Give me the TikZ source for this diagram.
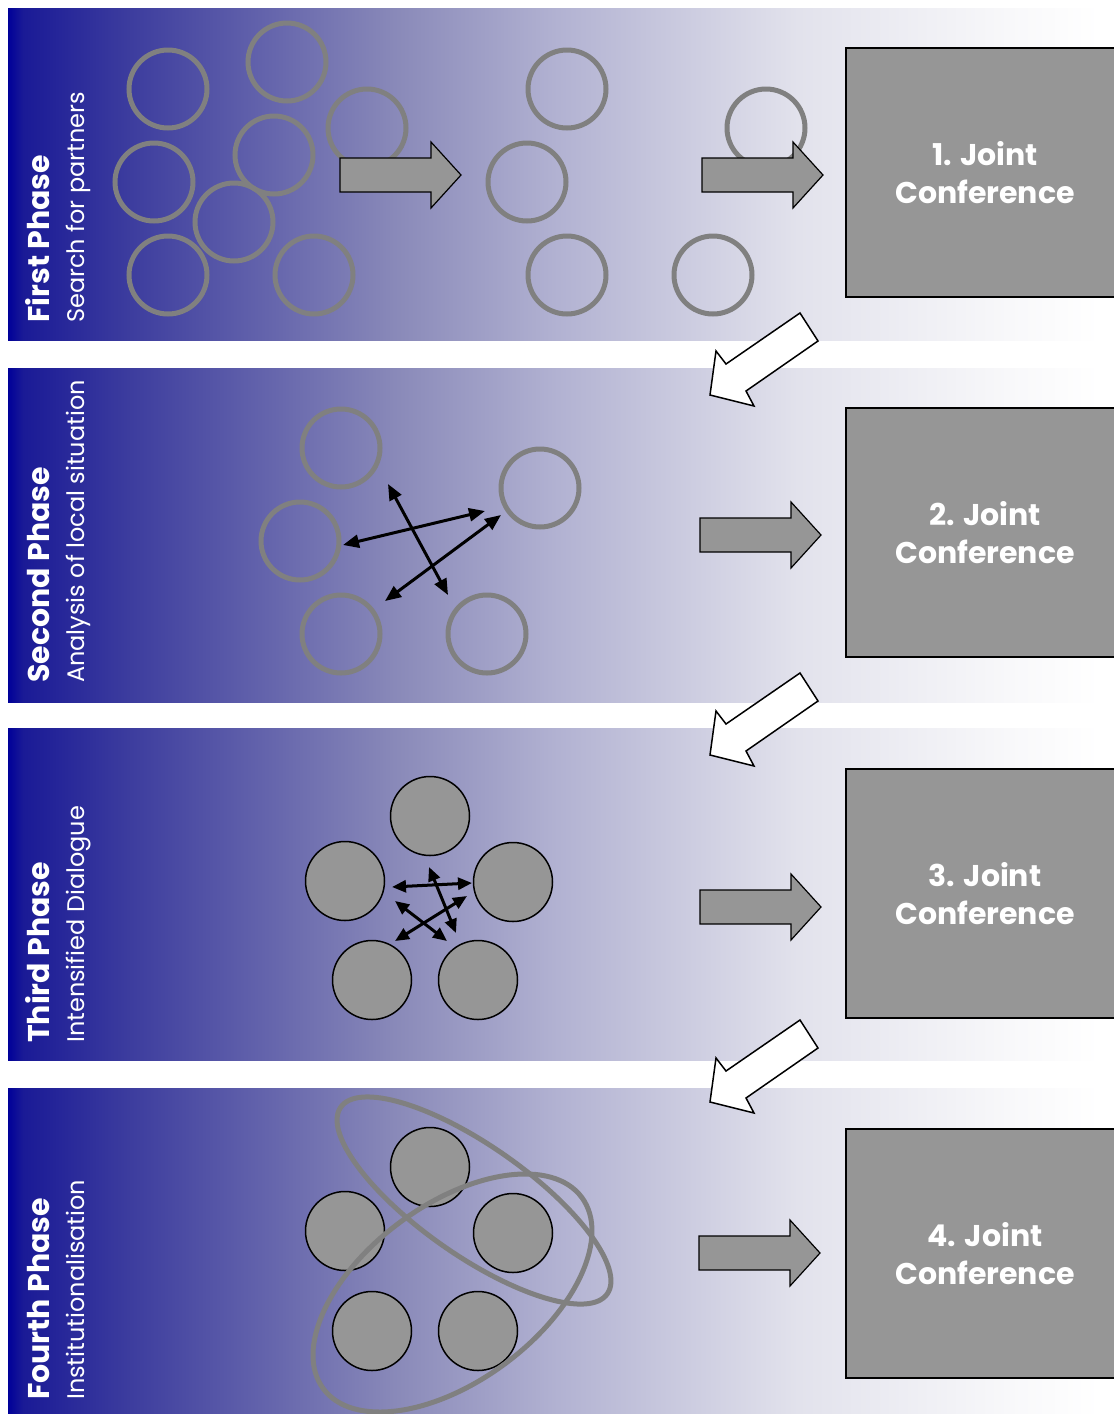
\documentclass[tikz,border=0pt]{standalone}
\usepackage{fontspec}
\setmainfont{Poppins}
\usetikzlibrary{arrows.meta}
\definecolor{g0}{RGB}{0,0,153}
\definecolor{g1}{RGB}{26,26,150}
\definecolor{g2}{RGB}{60,60,158}
\definecolor{g3}{RGB}{138,138,185}
\definecolor{g4}{RGB}{178,178,210}
\definecolor{g5}{RGB}{226,226,236}
\definecolor{g6}{RGB}{248,248,250}
\definecolor{ringgray}{RGB}{128,128,128}
\definecolor{boxgray}{RGB}{150,150,150}
\pgfdeclarehorizontalshading{bandshade}{100bp}{color(0bp)=(g0); color(25bp)=(g0); color(25.69bp)=(g1); color(30.49bp)=(g2); color(42.86bp)=(g3); color(50.18bp)=(g4); color(61.17bp)=(g5); color(70.79bp)=(g6); color(75bp)=(white); color(100bp)=(white)}
\tikzset{
  band/.style={shading=bandshade, draw=none},
  ring/.style={circle, draw=ringgray, line width=5pt, minimum size=78pt, inner sep=0pt},
  pcircle/.style={circle, draw=black, line width=1.5pt, fill=boxgray, minimum size=79pt, inner sep=0pt},
  conf/.style={rectangle, draw=black, line width=1.5pt, fill=boxgray, minimum width=278pt, minimum height=249pt, align=center, text=white, font=\fontsize{30}{38}\selectfont\bfseries},
  phasetitle/.style={rotate=90, anchor=base west, inner sep=0pt, text=white, font=\fontsize{30}{36}\selectfont\bfseries},
  phasesub/.style={rotate=90, anchor=base west, inner sep=0pt, text=white, font=\fontsize{24}{28}\selectfont},
  garrowstyle/.style={draw=black, line width=1.2pt, fill=boxgray},
  warrowstyle/.style={draw=black, line width=1.5pt, fill=white, line join=miter},
  link/.style={line width=3pt, {Triangle[length=16pt,width=13pt]}-{Triangle[length=16pt,width=13pt]}},
  smalllink/.style={line width=3pt, {Triangle[length=14pt,width=12pt]}-{Triangle[length=14pt,width=12pt]}},
  oval/.style={draw=ringgray, line width=5pt},
  garrow/.pic={\draw[garrowstyle] (0,-17) -- (91,-17) -- (91,-33) -- (121,0) -- (91,33) -- (91,17) -- (0,17) -- cycle;},
  warrow/.pic={\draw[warrowstyle] (800,313) -- (818,341) -- (746,391) -- (754,406) -- (710,395) -- (716,351) -- (726,364) -- cycle;}
}
\begin{document}
\begin{tikzpicture}[x=1pt,y=-1pt]
\useasboundingbox (0,0) rectangle (1114,1414);
\clip (0,0) rectangle (1114,1414);
\fill[white] (0,0) rectangle (1114,1414);
% bands
\fill[band] (8,8) rectangle (1100,340);
\fill[band] (8,368) rectangle (1100,702);
\fill[band] (8,728) rectangle (1100,1060);
\fill[band] (8,1088) rectangle (1100,1420);

% phase 1 circles
\node[ring] (a1) at (168,89) {};
\node[ring] (a2) at (287,62) {};
\node[ring] (a3) at (367,128) {};
\node[ring] (a4) at (274,155) {};
\node[ring] (a5) at (154,182) {};
\node[ring] (a6) at (234,222) {};
\node[ring] (a7) at (168,275) {};
\node[ring] (a8) at (314,275) {};
\node[ring] (b1) at (567,89) {};
\node[ring] (b2) at (527,182) {};
\node[ring] (b3) at (567,275) {};
\node[ring] (b4) at (766,128) {};
\node[ring] (b5) at (713,275) {};

% phase 2 circles
\node[ring] (c1) at (341,448) {};
\node[ring] (c2) at (300,541) {};
\node[ring] (c3) at (341,634) {};
\node[ring] (c4) at (540,488) {};
\node[ring] (c5) at (487,634) {};
\coordinate (l1a) at (343,545); \coordinate (l1b) at (485,511);
\coordinate (l2a) at (388,484); \coordinate (l2b) at (448,595);
\coordinate (l3a) at (385,601); \coordinate (l3b) at (501,515);
\draw[link] (l1a) -- (l1b);
\draw[link] (l2a) -- (l2b);
\draw[link] (l3a) -- (l3b);

% phase 3 circles
\node[pcircle] (d1) at (430,816) {};
\node[pcircle] (d2) at (345,881) {};
\node[pcircle] (d3) at (513,882) {};
\node[pcircle] (d4) at (372,980) {};
\node[pcircle] (d5) at (478,980) {};
\coordinate (m1a) at (392,887); \coordinate (m1b) at (472,883);
\coordinate (m2a) at (429,867); \coordinate (m2b) at (456,933);
\coordinate (m3a) at (395,901); \coordinate (m3b) at (447,941);
\coordinate (m4a) at (395,941); \coordinate (m4b) at (467,896);
\draw[smalllink] (m1a) -- (m1b);
\draw[smalllink] (m2a) -- (m2b);
\draw[smalllink] (m3a) -- (m3b);
\draw[smalllink] (m4a) -- (m4b);

% phase 4 circles
\node[pcircle] (e1) at (430,1167) {};
\node[pcircle] (e2) at (345,1231) {};
\node[pcircle] (e3) at (513,1233) {};
\node[pcircle] (e4) at (372,1331) {};
\node[pcircle] (e5) at (478,1331) {};
\coordinate (o1) at (474,1200.5);
\coordinate (o2) at (452.5,1293);
\draw[oval, rotate around={-35:(o1)}] (o1) ellipse [x radius=162.7, y radius=54.8];
\draw[oval, rotate around={36.5:(o2)}] (o2) ellipse [x radius=160.8, y radius=88.1];

% grey arrows
\pic at (340,175) {garrow};
\pic at (702,175) {garrow};
\pic at (700,535) {garrow};
\pic at (700,907) {garrow};
\pic at (699,1253) {garrow};

% white arrows
\pic at (0,0) {warrow};
\pic at (0,360) {warrow};
\pic at (0,707) {warrow};

% conference boxes
\node[conf] (k1) at (985,172.5) {1. Joint\\Conference};
\node[conf] (k2) at (985,532.5) {2. Joint\\Conference};
\node[conf] (k3) at (985,893.5) {3. Joint\\Conference};
\node[conf] (k4) at (985,1253.5) {4. Joint\\Conference};

% phase labels
\node[phasetitle] (t1) at (49,323) {First Phase};
\node[phasesub] (s1) at (84,323) {Search for partners};
\node[phasetitle] (t2) at (49,683) {Second Phase};
\node[phasesub] (s2) at (84,683) {Analysis of local situation};
\node[phasetitle] (t3) at (49,1043) {Third Phase};
\node[phasesub] (s3) at (84,1043) {Intensified Dialogue};
\node[phasetitle] (t4) at (49,1400) {Fourth Phase};
\node[phasesub] (s4) at (84,1400) {Institutionalisation};
\end{tikzpicture}
\end{document}
